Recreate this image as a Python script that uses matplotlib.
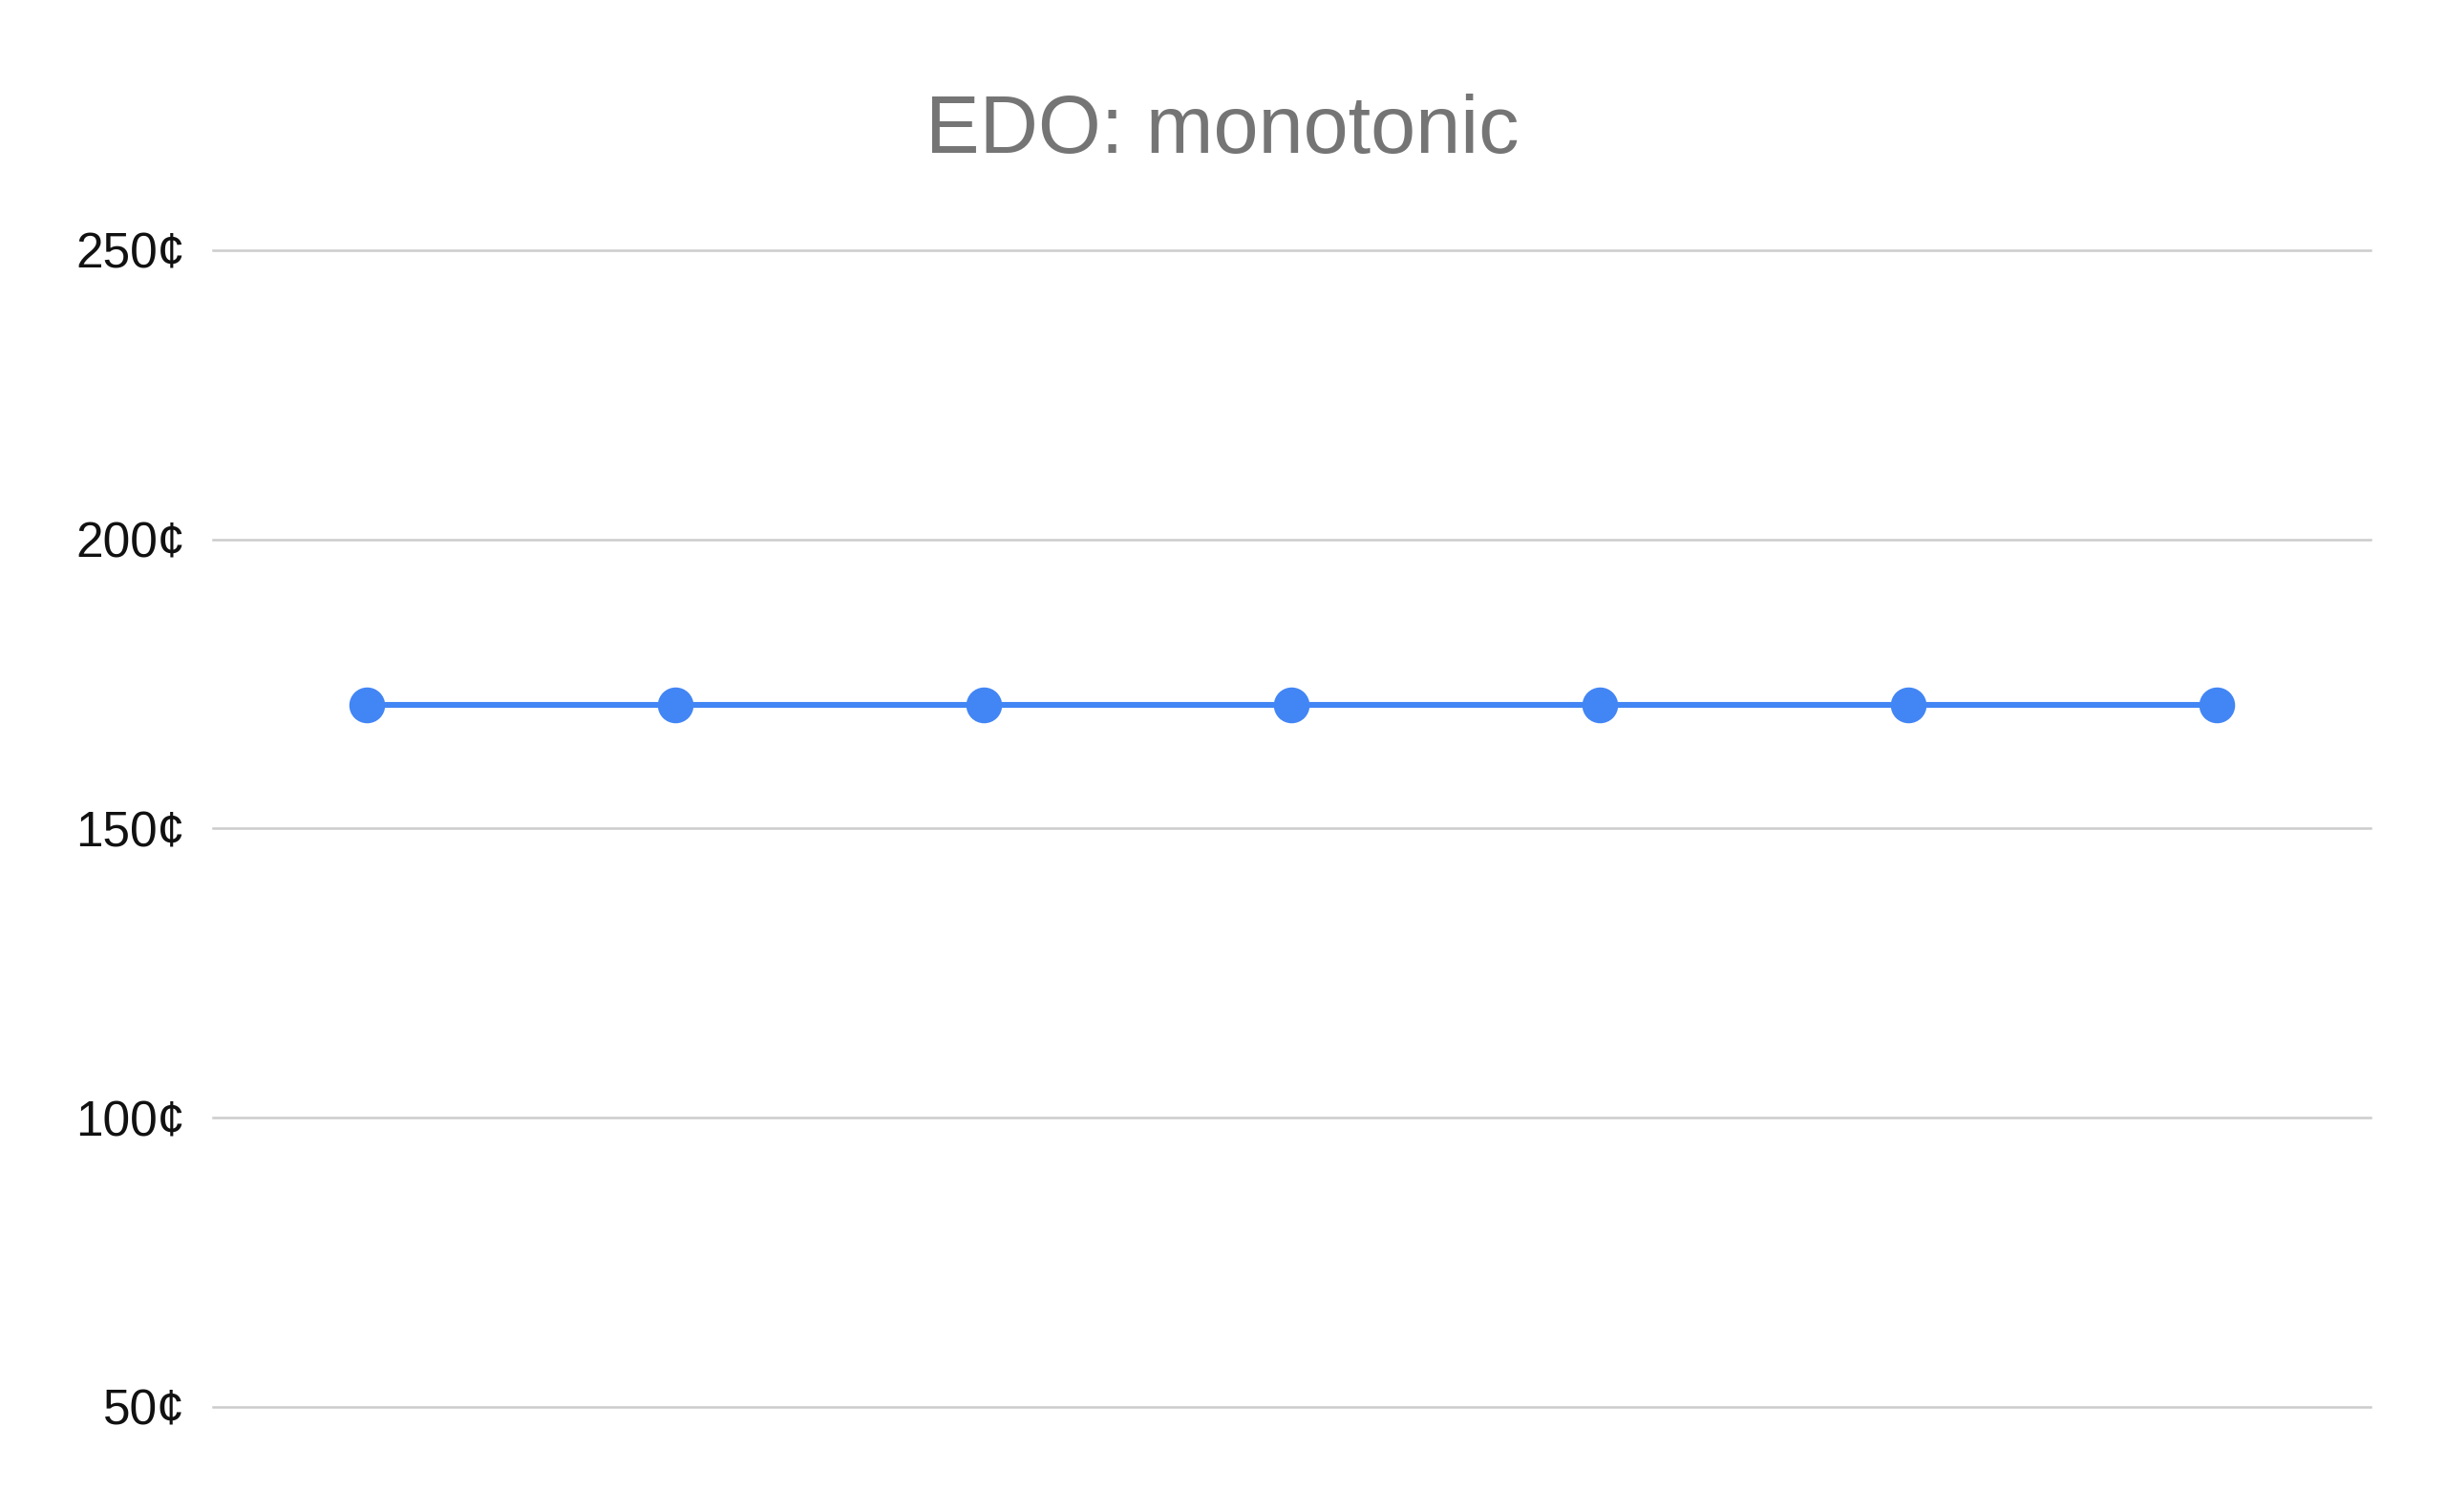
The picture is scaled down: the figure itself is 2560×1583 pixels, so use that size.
# plot.py
# EDO: monotonic - step sizes of 7-EDO in cents

from matplotlib import pyplot as plt
from matplotlib.ticker import FuncFormatter

plt.rcParams['font.family'] = ['Liberation Sans', 'DejaVu Sans']

# data
steps = [1, 2, 3, 4, 5, 6, 7]
cents = [171.43, 171.43, 171.43, 171.43, 171.43, 171.43, 171.43]
y_ticks = [50, 100, 150, 200, 250]

fig = plt.figure(figsize=(25.6, 15.83), dpi=100)
ax = fig.add_axes([0.0871, 0.0695, 0.8824, 0.765])

ax.plot(steps, cents, color="#4285F4", linewidth=4.4, marker="o",
        markersize=26, zorder=3, clip_on=False)

ax.set_xlim(steps[0] - 0.5, steps[-1] + 0.5)
ax.set_ylim(y_ticks[0], y_ticks[-1])
ax.set_yticks(y_ticks)
ax.yaxis.set_major_formatter(FuncFormatter(lambda v, p: f"{v:.0f}¢"))
ax.set_xticks([])

ax.grid(axis="y", color="#cccccc", linewidth=1.8)
# keep the edge gridlines from being cut in half
for gl in ax.get_ygridlines():
    gl.set_clip_on(False)
ax.tick_params(axis="y", length=0, pad=21, labelsize=37, labelcolor="#111111")
for s in ax.spines.values():
    s.set_visible(False)

fig.text(0.5, 0.913, "EDO: monotonic", ha="center", va="center",
         fontsize=61, color="#757575")

fig.savefig("out.png", dpi=100, facecolor="white")
